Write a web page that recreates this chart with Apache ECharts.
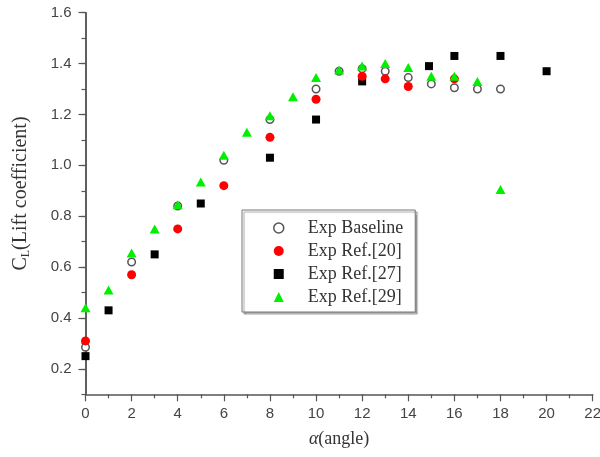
<!DOCTYPE html>
<html>
<head>
<meta charset="utf-8">
<script src="https://cdn.jsdelivr.net/npm/echarts@6/dist/echarts.min.js"></script>
<style>html,body{margin:0;padding:0;background:#fff;}#c{width:600px;height:457px;}</style>
</head>
<body>
<div id="c"></div>
<script>
const seriesNames = ['Exp Baseline', 'Exp Ref.[20]', 'Exp Ref.[27]', 'Exp Ref.[29]'];
const baselineX = [0, 2, 4, 6, 8, 10, 11, 12, 13, 14, 15, 16, 17, 18];
const baselineY = [0.285, 0.62, 0.84, 1.02, 1.18, 1.30, 1.37, 1.38, 1.37, 1.345, 1.32, 1.305, 1.30, 1.30];
const ref20X = [0, 2, 4, 6, 8, 10, 12, 13, 14, 16];
const ref20Y = [0.31, 0.57, 0.75, 0.92, 1.11, 1.26, 1.35, 1.34, 1.31, 1.34];
const ref27X = [0, 1, 3, 5, 8, 10, 12, 14.9, 16, 18, 20];
const ref27Y = [0.25, 0.43, 0.65, 0.85, 1.03, 1.18, 1.33, 1.39, 1.43, 1.43, 1.37];
const ref29X = [0, 1, 2, 3, 4, 5, 6, 7, 8, 9, 10, 11, 12, 13, 14, 15, 16, 17, 18];
const ref29Y = [0.44, 0.51, 0.655, 0.75, 0.845, 0.935, 1.04, 1.13, 1.195, 1.27, 1.345, 1.375, 1.39, 1.40, 1.385, 1.35, 1.35, 1.33, 0.905];
const yMajorTicks = [0.2, 0.4, 0.6, 0.8, 1.0, 1.2, 1.4, 1.6];

function pairs(xs, ys) { return xs.map((x, i) => [x, ys[i]]); }

const axisColor = '#555';
const labelColor = '#444';
const serif = '"Liberation Serif", "Times New Roman", "DejaVu Serif", serif';
const sans = '"Liberation Sans", Arial, sans-serif';

const chart = echarts.init(document.getElementById('c'), null, { renderer: 'canvas' });
chart.setOption({
  backgroundColor: '#fff',
  animation: false,
  grid: { left: 85.5, right: 7.3, top: 12.7, bottom: 62.7, containLabel: false, outerBoundsMode: 'none' },
  legend: {
    orient: 'vertical',
    left: 242, top: 210,
    padding: [8, 12, 5, 31],
    itemWidth: 10, itemHeight: 10, itemGap: 3,
    borderColor: '#777', borderWidth: 1,
    backgroundColor: '#fff',
    shadowColor: 'rgba(0,0,0,0.35)', shadowOffsetX: 2, shadowOffsetY: 2, shadowBlur: 1,
    textStyle: { fontFamily: serif, fontSize: 18, lineHeight: 20, color: '#333', padding: [0, 0, 0, 19] },
    data: [
      { name: seriesNames[0], icon: 'circle', itemStyle: { color: '#fff', borderColor: '#555', borderWidth: 1.5 } },
      { name: seriesNames[1], icon: 'circle' },
      { name: seriesNames[2], icon: 'rect' },
      { name: seriesNames[3], icon: 'triangle' }
    ]
  },
  xAxis: {
    type: 'value', min: 0, max: 22, interval: 2,
    name: '{i|α}(angle)',
    nameLocation: 'middle', nameGap: 36,
    nameTextStyle: { fontFamily: serif, fontSize: 18, color: '#333',
      rich: { i: { fontFamily: serif, fontStyle: 'italic', fontSize: 18, color: '#333' } } },
    axisLine: { show: true, onZero: false, lineStyle: { color: axisColor, width: 1.5 } },
    axisTick: { show: true, length: 7, lineStyle: { color: axisColor, width: 1.2 } },
    minorTick: { show: true, splitNumber: 2, length: 4, lineStyle: { color: axisColor, width: 1.2 } },
    axisLabel: { fontFamily: sans, fontSize: 15, color: labelColor, margin: 12 },
    splitLine: { show: false }
  },
  yAxis: [{
    type: 'value', min: 0.1, max: 1.6, interval: 0.1,
    name: '{c|C}{s|L}{c|(Lift coefficient)}',
    nameLocation: 'middle', nameGap: 54,
    nameTextStyle: { fontFamily: serif, fontSize: 20, color: '#333', padding: [0, 0, 0, 20],
      rich: {
        c: { fontFamily: serif, fontSize: 20, color: '#333' },
        s: { fontFamily: serif, fontSize: 12, color: '#333', verticalAlign: 'bottom', padding: [10, 0, 0, 0] }
      } },
    axisLine: { show: true, onZero: false, lineStyle: { color: axisColor, width: 1.5 } },
    axisTick: { show: true, length: 7, customValues: yMajorTicks, lineStyle: { color: axisColor, width: 1.2 } },
    axisLabel: { fontFamily: sans, fontSize: 15, color: labelColor, margin: 14, customValues: yMajorTicks,
      formatter: v => (Math.round(v * 10) % 2 === 0 ? v.toFixed(1) : '') },
    splitLine: { show: false }
  }, {
    type: 'value', min: 0.1, max: 1.6, interval: 0.1, position: 'left', offset: 0,
    axisLine: { show: true, onZero: false, lineStyle: { color: axisColor, width: 1.5 } },
    axisTick: { show: true, length: 4, lineStyle: { color: axisColor, width: 1.2 } },
    axisLabel: { show: false },
    splitLine: { show: false }
  }],
  series: [
    { name: seriesNames[0], type: 'scatter', clip: false, symbol: 'circle', symbolSize: 7.5,
      itemStyle: { color: '#fff', borderColor: '#555', borderWidth: 1.5, opacity: 1 },
      data: pairs(baselineX, baselineY) },
    { name: seriesNames[2], type: 'scatter', clip: false, symbol: 'rect', symbolSize: 8,
      itemStyle: { color: '#000', opacity: 1 },
      data: pairs(ref27X, ref27Y) },
    { name: seriesNames[1], type: 'scatter', clip: false, symbol: 'circle', symbolSize: 9,
      itemStyle: { color: '#ff0000', opacity: 1 },
      data: pairs(ref20X, ref20Y) },
    { name: seriesNames[3], type: 'scatter', clip: false, symbol: 'triangle', symbolSize: [10, 9],
      itemStyle: { color: '#00f000', opacity: 1 },
      data: pairs(ref29X, ref29Y) }
  ]
});
</script>
</body>
</html>
